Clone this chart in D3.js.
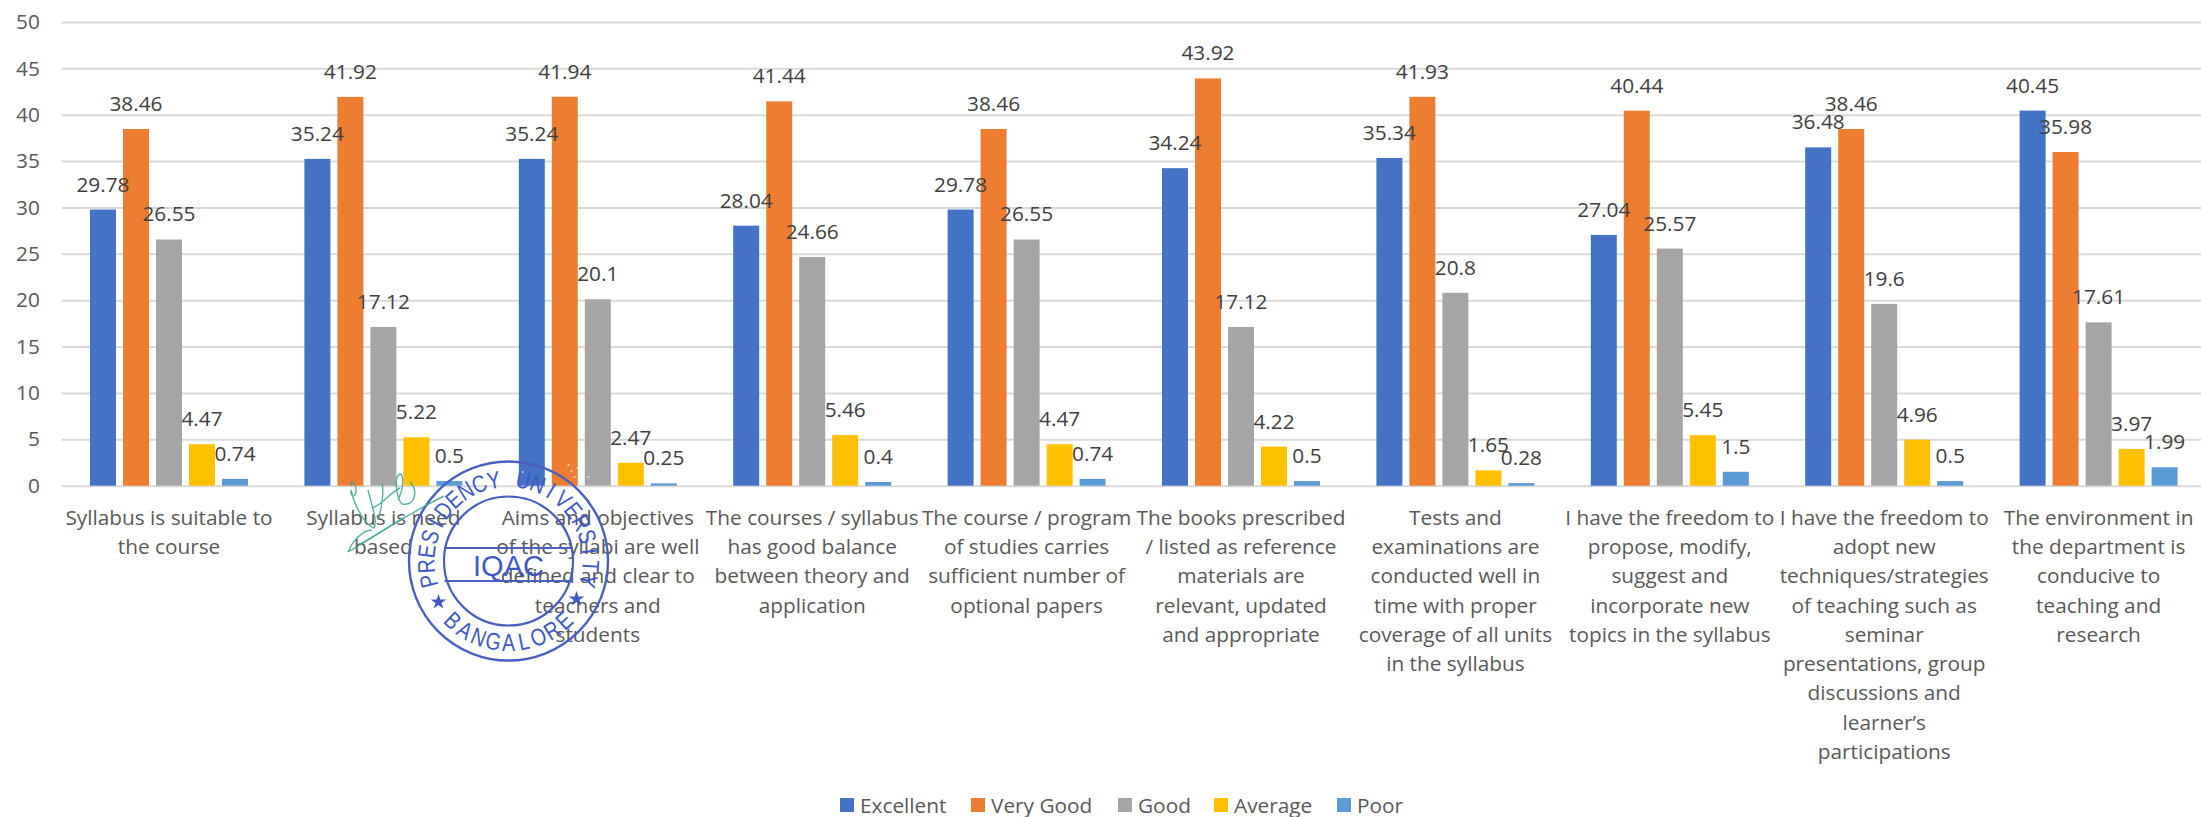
<!DOCTYPE html>
<html>
<head>
<meta charset="utf-8">
<title>Feedback on curriculum</title>
<script src="https://cdn.jsdelivr.net/npm/d3@7/dist/d3.min.js"></script>
<style>
  html, body { margin: 0; padding: 0; background: #fff; }
  svg { display: block; }
  text { font-family: "Open Sans", sans-serif; }
</style>
</head>
<body>
<svg id="chart" width="2201" height="817"></svg>
<script>
// Survey responses, percent of respondents per rating
const ratings = ["Excellent", "Very Good", "Good", "Average", "Poor"];
const excellent = [29.78, 35.24, 35.24, 28.04, 29.78, 34.24, 35.34, 27.04, 36.48, 40.45];
const veryGood  = [38.46, 41.92, 41.94, 41.44, 38.46, 43.92, 41.93, 40.44, 38.46, 35.98];
const good      = [26.55, 17.12, 20.1, 24.66, 26.55, 17.12, 20.8, 25.57, 19.6, 17.61];
const average   = [4.47, 5.22, 2.47, 5.46, 4.47, 4.22, 1.65, 5.45, 4.96, 3.97];
const poor      = [0.74, 0.5, 0.25, 0.4, 0.74, 0.5, 0.28, 1.5, 0.5, 1.99];
const seriesValues = [excellent, veryGood, good, average, poor];
const ratingColors = ["#4472c4", "#ed7d31", "#a5a5a5", "#ffc000", "#5b9bd5"];
const yTicks = [0, 5, 10, 15, 20, 25, 30, 35, 40, 45, 50];

// Question wording, one entry per wrapped line
const categories = [
  ["Syllabus is suitable to", "the course"],
  ["Syllabus is need", "based"],
  ["Aims and objectives", "of the syllabi are well", "defined and clear to", "teachers and", "students"],
  ["The courses / syllabus", "has good balance", "between theory and", "application"],
  ["The course / program", "of studies carries", "sufficient number of", "optional papers"],
  ["The books prescribed", "/ listed as reference", "materials are", "relevant, updated", "and appropriate"],
  ["Tests and", "examinations are", "conducted well in", "time with proper", "coverage of all units", "in the syllabus"],
  ["I have the freedom to", "propose, modify,", "suggest and", "incorporate new", "topics in the syllabus"],
  ["I have the freedom to", "adopt new", "techniques/strategies", "of teaching such as", "seminar", "presentations, group", "discussions and", "learner\u2019s", "participations"],
  ["The environment in", "the department is", "conducive to", "teaching and", "research"]
];

const svg = d3.select("#chart");
const plot = { left: 61.8, right: 2205.8, top: 22, bottom: 485.7 };
const fontSize = 20.8;
const lineStep = 29.3;

const x0 = d3.scaleBand().domain(d3.range(categories.length)).range([plot.left, plot.right]);
const x1 = d3.scaleBand().domain(ratings)
  .range([x0.bandwidth() / 2 - 79, x0.bandwidth() / 2 + 79])
  .paddingInner(0.212);
const y = d3.scaleLinear().domain([0, 50]).range([plot.bottom, plot.top]);

// Horizontal gridlines with their value labels
const yAxis = d3.axisLeft(y).tickValues(yTicks)
  .tickSizeInner(-(plot.right - plot.left)).tickSizeOuter(0).tickPadding(22);
const yG = svg.append("g").attr("transform", `translate(${plot.left},0)`).call(yAxis);
yG.select(".domain").remove();
yG.selectAll("line").attr("stroke", "#d9d9d9").attr("stroke-width", 2);
yG.selectAll("text").attr("fill", "#595959").style("font-size", fontSize + "px")
  .style("font-family", '"Open Sans", sans-serif');

// Grouped bars, one group per question
const groups = svg.append("g").selectAll("g").data(categories).join("g")
  .attr("transform", (d, i) => `translate(${x0(i)},0)`);

ratings.forEach((rating, s) => {
  groups.append("rect")
    .attr("x", x1(rating))
    .attr("width", x1.bandwidth())
    .attr("y", (d, i) => y(seriesValues[s][i]))
    .attr("height", (d, i) => y(0) - y(seriesValues[s][i]))
    .attr("fill", ratingColors[s]);
});

// Value labels above every bar, drawn after all bars so they stay on top
ratings.forEach((rating, s) => {
  groups.append("text")
    .attr("x", x1(rating) + x1.bandwidth() / 2)
    .attr("y", (d, i) => y(seriesValues[s][i]) - 18)
    .attr("text-anchor", "middle")
    .attr("fill", "#404040")
    .style("font-size", fontSize + "px")
    .text((d, i) => seriesValues[s][i]);
});

// Category labels under the baseline
const xAxis = d3.axisBottom(x0).tickSize(0).tickFormat("");
const xG = svg.append("g").attr("transform", `translate(0,${plot.bottom})`).call(xAxis);
xG.select(".domain").remove();
xG.selectAll(".tick text").each(function (i) {
  const t = d3.select(this)
    .attr("y", 39).attr("dy", null)
    .attr("fill", "#595959")
    .style("font-size", fontSize + "px")
    .style("font-family", '"Open Sans", sans-serif');
  categories[i].forEach((line, k) => {
    t.append("tspan").attr("x", 0).attr("y", 39 + k * lineStep).text(line);
  });
});

// Legend row along the bottom edge
const legendX = [840, 971, 1118, 1214, 1337];
const legend = svg.append("g").selectAll("g").data(ratings).join("g")
  .attr("transform", (d, i) => `translate(${legendX[i]},798)`);
legend.append("rect").attr("width", 14).attr("height", 14)
  .attr("fill", (d, i) => ratingColors[i]);
legend.append("text").attr("x", 20).attr("y", 14.5)
  .attr("fill", "#595959").style("font-size", fontSize + "px")
  .text(d => d);

// Round office seal with the signature beside it
const inkBlue = "#4159c8";
const sealLine = "#4a5fbe";
const seal = svg.append("g").attr("transform", "translate(508.5,561)");
const rad = d => d * Math.PI / 180;

seal.append("circle").attr("r", 99.5).attr("fill", "none").attr("stroke", sealLine).attr("stroke-width", 2.4);
seal.append("circle").attr("r", 64.5).attr("fill", "none").attr("stroke", sealLine).attr("stroke-width", 2.2);
[-13, 20].forEach(dy => {
  seal.append("line").attr("x1", -64).attr("x2", 64).attr("y1", dy).attr("y2", dy)
    .attr("stroke", sealLine).attr("stroke-width", 2.2);
});
seal.append("text").attr("y", 14.5).attr("text-anchor", "middle")
  .attr("fill", inkBlue).style("font-family", '"Liberation Sans", sans-serif')
  .style("font-size", "29px").text("IQAC");

// Ring lettering, each glyph turned to follow the circle
const ringLetters = (label, from, to, radius, flip) => {
  const angle = d3.scaleLinear().domain([0, label.length - 1]).range([from, to]);
  const chars = Array.from(label).map((c, i) => ({ c, a: angle(i) })).filter(d => d.c !== " ");
  seal.append("g").selectAll("text").data(chars).join("text")
    .attr("text-anchor", "middle")
    .attr("y", 8)
    .attr("fill", inkBlue)
    .style("font-family", '"Liberation Sans", sans-serif')
    .style("font-size", "24px")
    .attr("transform", d => flip
      ? `translate(${radius * Math.sin(rad(d.a))},${radius * Math.cos(rad(d.a))}) rotate(${-d.a}) scale(0.82,1)`
      : `translate(${radius * Math.sin(rad(d.a))},${-radius * Math.cos(rad(d.a))}) rotate(${d.a}) scale(0.82,1)`)
    .text(d => d.c);
};
ringLetters("PRESIDENCY UNIVERSITY", -104, 104, 82, false);
ringLetters("BANGALORE", -43, 43, 82, true);

[[-70, 41], [68, 38]].forEach(([sx, sy]) => {
  seal.append("path").attr("d", d3.symbol(d3.symbolStar, 75)())
    .attr("transform", `translate(${sx},${sy})`).attr("fill", inkBlue);
});

// Pale speckles where the seal ink lifts over the bars
const speckles = [[-4, -92], [2, -89], [8, -86], [14, -89], [-1, -84], [60, -96], [63, -90], [69, -93], [74, -87], [66, -84], [80, -84], [72, -80]];
seal.append("g").selectAll("circle").data(speckles).join("circle")
  .attr("cx", d => d[0]).attr("cy", d => d[1]).attr("r", 1.1).attr("fill", "#fff").attr("opacity", 0.65);

// Hand signature
const signature = [
  "M348,552 C372,538 404,516 444,496",
  "M348,552 C352,542 362,530 372,530",
  "M352,486 C348,478 356,482 356,490 C356,498 350,498 351,490 C354,506 366,526 374,528 C378,522 372,506 368,490",
  "M378,520 C382,508 384,490 382,484 M372,508 C384,504 388,494 400,488",
  "M398,500 C404,488 404,474 400,474 C394,476 396,498 402,504 C416,506 418,490 410,482",
  "M360,544 C376,536 392,524 404,518"
];
svg.append("g").selectAll("path").data(signature).join("path")
  .attr("d", d => d).attr("fill", "none").attr("stroke", "#3fa58e")
  .attr("stroke-width", 1.4).attr("opacity", 0.85);
</script>
</body>
</html>
